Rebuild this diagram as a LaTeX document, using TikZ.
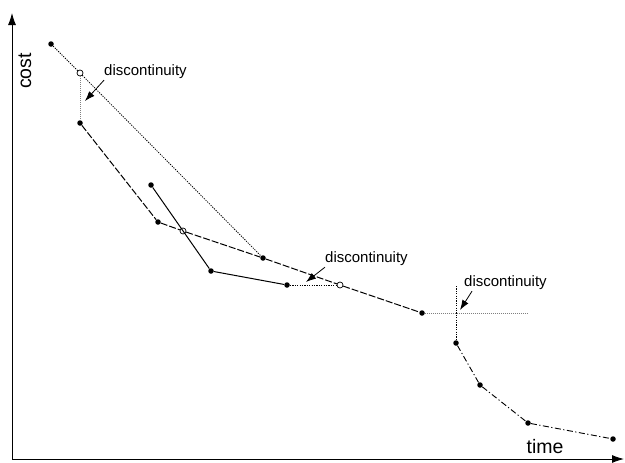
\documentclass[tikz,border=0pt]{standalone}
\usepackage{fontspec}
\setmainfont{Liberation Sans}
\usetikzlibrary{arrows.meta}
\begin{document}
\begin{tikzpicture}[x=1pt,y=-1pt,
  dot/.style={circle,fill=black,inner sep=0pt,minimum size=5.5pt},
  odot/.style={circle,draw=black,fill=white,line width=0.7pt,inner sep=0pt,minimum size=6pt},
  lbl/.style={font=\fontsize{15}{18}\selectfont,inner sep=0pt,anchor=west},
  axlbl/.style={font=\fontsize{19.5}{22}\selectfont,inner sep=0pt},
  axis/.style={line width=0.9pt,-{Latex[length=12pt,width=8pt]}},
  pointer/.style={line width=0.8pt,-{Latex[length=10pt,width=7pt]}},
  dotl/.style={line width=0.8pt,dash pattern=on 1.2pt off 1.2pt},
  greydot/.style={line width=0.9pt,gray,dash pattern=on 1pt off 1pt},
  dashl/.style={line width=1pt,dash pattern=on 7pt off 2pt},
  dashdotl/.style={line width=0.9pt,dash pattern=on 6pt off 2.5pt on 1.2pt off 2.5pt},
  solidl/.style={line width=1pt}]
\useasboundingbox (0,0) rectangle (625,463);
% axes
\coordinate (O) at (12,459);
\coordinate (Ytop) at (12,13);
\coordinate (Xend) at (624,459);
\draw[axis] (O) -- (Ytop);
\draw[axis] (O) -- (Xend);
\node[axlbl,rotate=90] (cost) at (25,71) {cost};
\node[axlbl] (time) at (545,447) {time};
% points
\node[dot] (a1) at (51,44) {};
\node[odot] (a2) at (80,73) {};
\node[dot] (b1) at (80,123) {};
\node[dot] (b2) at (158,222) {};
\node[odot] (b3) at (183,231) {};
\node[dot] (b4) at (263,258) {};
\node[odot] (b5) at (340,285) {};
\node[dot] (b6) at (422,313) {};
\node[dot] (c1) at (151,185) {};
\node[dot] (c2) at (211,271) {};
\node[dot] (c3) at (287,285) {};
\node[dot] (d1) at (456,343) {};
\node[dot] (d2) at (480,385) {};
\node[dot] (d3) at (528,423) {};
\node[dot] (d4) at (613,439) {};
\coordinate (h1) at (528,313);
\coordinate (v1) at (456,286);
% lines
\draw[dotl] (a1) -- (a2);
\draw[dotl] (a2) -- (b4);
\draw[greydot] (a2) -- (b1);
\draw[dashl] (b1) -- (b2) -- (b3) -- (b4) -- (b5) -- (b6);
\draw[solidl] (c1) -- (c2) -- (c3);
\draw[dotl] (c3) -- (b5);
\draw[greydot] (b6) -- (h1);
\draw[dotl] (v1) -- (d1);
\draw[dashdotl] (d1) -- (d2) -- (d3) -- (d4);
% labels
\node[lbl] (t1) at (104,72) {discontinuity};
\node[lbl] (t2) at (325,259) {discontinuity};
\node[lbl] (t3) at (464,283) {discontinuity};
\coordinate (e1) at (85,101);
\coordinate (e2) at (306,282);
\coordinate (e3) at (460,310);
\draw[pointer] (t1.south west) ++(0,1) -- (e1);
\draw[pointer] (t2.south west) ++(0,1) -- (e2);
\draw[pointer] (t3.south west) ++(8,1) -- (e3);
\end{tikzpicture}
\end{document}
